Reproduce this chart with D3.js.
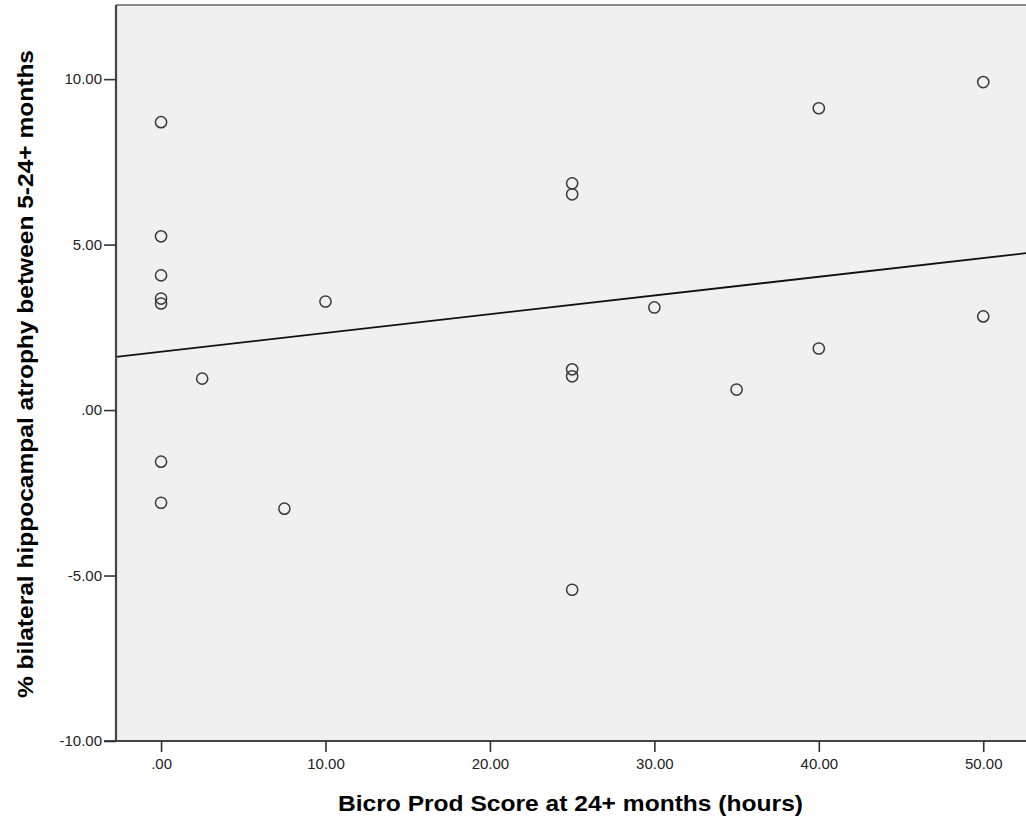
<!DOCTYPE html>
<html>
<head>
<meta charset="utf-8">
<script src="https://cdn.jsdelivr.net/npm/d3@7"></script>
<style>
  html, body { margin: 0; padding: 0; background: #ffffff; }
  svg { display: block; }
</style>
</head>
<body>
<svg id="chart" width="1026" height="822"></svg>
<script>
// ---- data ----
const prodScore = [0, 0, 0, 0, 0, 0, 0, 2.5, 7.5, 10, 25, 25, 25, 25, 25, 30, 35, 40, 40, 50, 50];
const atrophy   = [8.70, 5.25, 4.07, 3.37, 3.22, -1.56, -2.80, 0.95, -2.98, 3.28, 6.85, 6.52, 1.23, 1.02, -5.43, 3.10, 0.62, 9.12, 1.86, 9.91, 2.83];
const xTicks = [0, 10, 20, 30, 40, 50];
const yTicks = [-10, -5, 0, 5, 10];
const xTitle = "Bicro Prod Score at 24+ months (hours)";
const yTitle = "% bilateral hippocampal atrophy between 5-24+ months";

const points = prodScore.map((x, i) => ({ x, y: atrophy[i] }));

// ---- layout ----
const plotL = 116, plotR = 1026, plotT = 5, plotB = 741;
const svg = d3.select("#chart");

const x = d3.scaleLinear().domain([-2.74, 52.6]).range([plotL, plotR]);
const y = d3.scaleLinear().domain([-10, 12.24]).range([plotB, plotT]);

// SPSS-style labels: ".00", "-5.00" with an ASCII hyphen
const fmt = v => v === 0 ? ".00" : (v < 0 ? "-" : "") + Math.abs(v).toFixed(2);

// plot background
svg.append("rect")
  .attr("x", plotL).attr("y", plotT)
  .attr("width", plotR - plotL + 5).attr("height", plotB - plotT)
  .attr("fill", "#f0f0f0");

// top border
svg.append("line")
  .attr("x1", plotL).attr("x2", plotR)
  .attr("y1", plotT).attr("y2", plotT)
  .attr("stroke", "#8a8a8a").attr("stroke-width", 2);

// clip for data
svg.append("clipPath").attr("id", "clip")
  .append("rect").attr("x", plotL).attr("y", plotT)
  .attr("width", plotR - plotL).attr("height", plotB - plotT);

// regression line (least squares from data)
const mx = d3.mean(prodScore), my = d3.mean(atrophy);
const sxy = d3.sum(points, p => (p.x - mx) * (p.y - my));
const sxx = d3.sum(points, p => (p.x - mx) * (p.x - mx));
const slope = sxy / sxx, intercept = my - slope * mx;
const [dx0, dx1] = x.domain();
svg.append("line")
  .attr("clip-path", "url(#clip)")
  .attr("x1", x(dx0)).attr("y1", y(intercept + slope * dx0))
  .attr("x2", x(dx1)).attr("y2", y(intercept + slope * dx1))
  .attr("stroke", "#111").attr("stroke-width", 1.8);

// points
svg.append("g").attr("clip-path", "url(#clip)")
  .selectAll("circle").data(points).join("circle")
  .attr("cx", d => x(d.x)).attr("cy", d => y(d.y))
  .attr("r", 5.6)
  .attr("fill", "none")
  .attr("stroke", "#3a3a3a").attr("stroke-width", 1.5);

// axes
const xAxis = d3.axisBottom(x).tickValues(xTicks).tickFormat(fmt).tickSize(11).tickSizeOuter(0).tickPadding(6);
const yAxis = d3.axisLeft(y).tickValues(yTicks).tickFormat(fmt).tickSize(12).tickSizeOuter(0).tickPadding(2);

const gx = svg.append("g").attr("transform", `translate(0,${plotB})`).call(xAxis);
const gy = svg.append("g").attr("transform", `translate(${plotL},0)`).call(yAxis);

[gx, gy].forEach(g => {
  g.attr("font-size", null).attr("font-family", null);
  g.select(".domain").attr("stroke", "#444").attr("stroke-width", 2.2);
  g.selectAll(".tick line").attr("stroke", "#333").attr("stroke-width", 1.6);
  g.selectAll(".tick text")
    .attr("fill", "#222")
    .style("font-family", "'Liberation Sans', Arial, sans-serif")
    .style("font-size", "15px");
});
gy.select(".domain").attr("d", `M0,${plotB}V${plotT}`);
gx.select(".domain").attr("d", `M${plotL - 12},0H${plotR}`);

// axis titles
svg.append("text")
  .attr("x", 570.5).attr("y", 811)
  .attr("text-anchor", "middle")
  .attr("textLength", 465).attr("lengthAdjust", "spacingAndGlyphs")
  .style("font-family", "'Liberation Sans', Arial, sans-serif")
  .style("font-weight", "bold").style("font-size", "22.5px")
  .attr("fill", "#000")
  .text(xTitle);

svg.append("text")
  .attr("transform", "translate(32.5,374) rotate(-90)")
  .attr("text-anchor", "middle")
  .attr("textLength", 648).attr("lengthAdjust", "spacingAndGlyphs")
  .style("font-family", "'Liberation Sans', Arial, sans-serif")
  .style("font-weight", "bold").style("font-size", "22.5px")
  .attr("fill", "#000")
  .text(yTitle);
</script>
</body>
</html>
